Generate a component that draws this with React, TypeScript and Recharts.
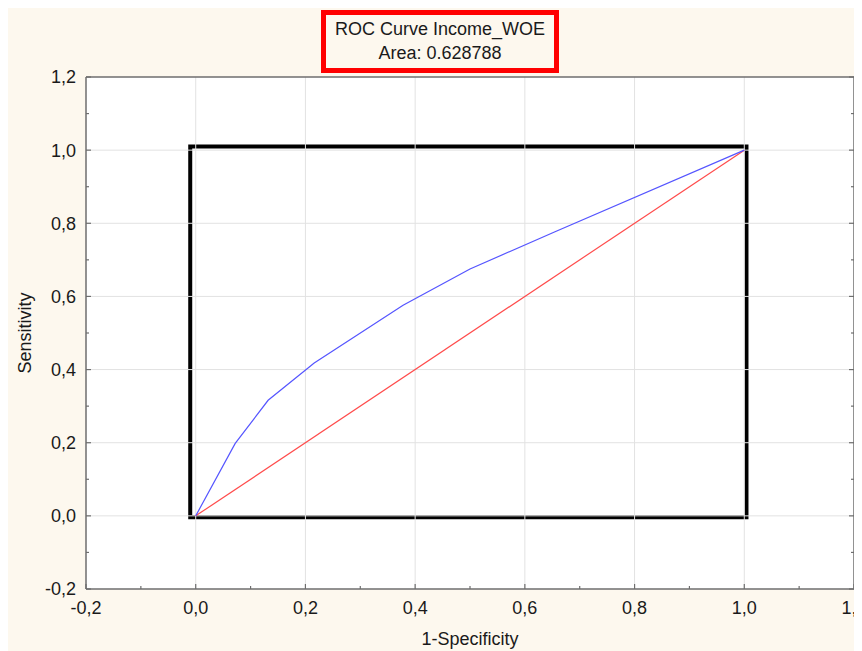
import React from "react";
import {
  CartesianGrid,
  Label,
  Line,
  LineChart,
  ReferenceArea,
  ReferenceLine,
  XAxis,
  YAxis,
} from "recharts";

// ROC points
const fpr = [0, 0.072, 0.132, 0.216, 0.378, 0.5, 0.655, 1];
const tpr = [0, 0.198, 0.316, 0.418, 0.576, 0.675, 0.777, 1];
const diagX = [0, 1];
const diagY = [0, 1];

const axisTicks = [
  -0.2, -0.1, 0, 0.1, 0.2, 0.3, 0.4, 0.5, 0.6, 0.7, 0.8, 0.9, 1, 1.1, 1.2,
];
const gridValues = [0, 0.2, 0.4, 0.6, 0.8, 1];

const rocData = fpr.map((x, i) => ({ fpr: x, tpr: tpr[i] }));
const diagData = diagX.map((x, i) => ({ fpr: x, tpr: diagY[i] }));

const FONT = "'Liberation Sans', Arial, sans-serif";
const TEXT = "#1a1a1a";
const AXIS = "#6e6e6e";
const GAP_X = 12;
const GAP_Y = 10;

const isMajor = (v: number) => Math.abs(Math.round(v * 10)) % 2 === 0;
const fmt = (v: number) => v.toFixed(1).replace(".", ",");

function Tick(props: any) {
  const { x, y, payload, side } = props;
  const v = payload.value as number;
  const major = isMajor(v);
  const len = major ? 5 : 3;
  if (side === "bottom") {
    const ay = y - GAP_X;
    return (
      <g>
        <line x1={x} y1={ay} x2={x} y2={ay - len} stroke={AXIS} strokeWidth={1.2} />
        {major && (
          <text x={x} y={y} dy="0.71em" textAnchor="middle" fill={TEXT} fontSize={18} fontFamily={FONT}>
            {fmt(v)}
          </text>
        )}
      </g>
    );
  }
  if (side === "top") {
    return <line x1={x} y1={y} x2={x} y2={y + len} stroke={AXIS} strokeWidth={1.2} />;
  }
  if (side === "left") {
    const ax = x + GAP_Y;
    return (
      <g>
        <line x1={ax} y1={y} x2={ax + len} y2={y} stroke={AXIS} strokeWidth={1.2} />
        {major && (
          <text x={x} y={y} dy="0.355em" textAnchor="end" fill={TEXT} fontSize={18} fontFamily={FONT}>
            {fmt(v)}
          </text>
        )}
      </g>
    );
  }
  return <line x1={x} y1={y} x2={x - len} y2={y} stroke={AXIS} strokeWidth={1.2} />;
}

export default function App() {
  return (
    <div
      style={{
        position: "relative",
        width: 854,
        height: 643,
        background: "#fdf8ee",
        overflow: "hidden",
        fontFamily: FONT,
      }}
    >
      <LineChart
        width={854}
        height={643}
        margin={{ top: 68, right: 0, bottom: 0, left: 0 }}
      >
        <CartesianGrid fill="#ffffff" stroke="none" />
        {gridValues.map((g) => (
          <ReferenceLine key={"vx" + g} x={g} stroke="#e2e2e2" strokeWidth={1} />
        ))}
        {gridValues.map((g) => (
          <ReferenceLine key={"hy" + g} y={g} stroke="#e2e2e2" strokeWidth={1} />
        ))}
        <XAxis
          dataKey="fpr"
          type="number"
          domain={[-0.2, 1.2]}
          ticks={axisTicks}
          interval={0}
          allowDataOverflow
          height={62}
          tickSize={0}
          tickMargin={GAP_X}
          tickLine={false}
          axisLine={{ stroke: AXIS, strokeWidth: 1.5 }}
          tick={<Tick side="bottom" />}
        >
          <Label
            value="1-Specificity"
            position="insideBottom"
            offset={6}
            fill={TEXT}
            fontSize={18}
            fontFamily={FONT}
          />
        </XAxis>
        <XAxis
          xAxisId="top"
          orientation="top"
          type="number"
          domain={[-0.2, 1.2]}
          ticks={axisTicks}
          interval={0}
          allowDataOverflow
          height={1}
          tickSize={0}
          tickMargin={0}
          tickLine={false}
          axisLine={{ stroke: AXIS, strokeWidth: 1.5 }}
          tick={<Tick side="top" />}
        />
        <YAxis
          type="number"
          domain={[-0.2, 1.2]}
          ticks={axisTicks}
          interval={0}
          allowDataOverflow
          width={78}
          tickSize={0}
          tickMargin={GAP_Y}
          tickLine={false}
          axisLine={{ stroke: AXIS, strokeWidth: 1.5 }}
          tick={<Tick side="left" />}
          label={{
            content: ({ viewBox }: any) => {
              const cx = viewBox.x + 17;
              const cy = viewBox.y + viewBox.height / 2;
              return (
                <text
                  x={cx}
                  y={cy}
                  transform={`rotate(-90 ${cx} ${cy})`}
                  textAnchor="middle"
                  dominantBaseline="central"
                  fill={TEXT}
                  fontSize={18}
                  fontFamily={FONT}
                >
                  Sensitivity
                </text>
              );
            },
          }}
        />
        <YAxis
          yAxisId="right"
          orientation="right"
          type="number"
          domain={[-0.2, 1.2]}
          ticks={axisTicks}
          interval={0}
          allowDataOverflow
          width={8}
          tickSize={0}
          tickMargin={0}
          tickLine={false}
          axisLine={{ stroke: AXIS, strokeWidth: 1.5 }}
          tick={<Tick side="right" />}
        />
        <Line
          data={diagData}
          dataKey="tpr"
          stroke="#ff4b4b"
          strokeWidth={1.2}
          dot={false}
          isAnimationActive={false}
        />
        <Line
          data={rocData}
          dataKey="tpr"
          stroke="#5555ff"
          strokeWidth={1.2}
          dot={false}
          isAnimationActive={false}
        />
        <ReferenceArea
          x1={-0.01}
          x2={1.004}
          y1={-0.004}
          y2={1.01}
          fill="none"
          fillOpacity={0}
          stroke="#000000"
          strokeWidth={4}
        />
      </LineChart>
      <div
        style={{
          position: "absolute",
          left: 313,
          top: 2,
          width: 238,
          height: 63,
          boxSizing: "border-box",
          border: "5px solid #ff0000",
          textAlign: "center",
          color: TEXT,
          fontSize: 18,
          lineHeight: "24px",
          paddingTop: 2,
        }}
      >
        <div>ROC Curve Income_WOE</div>
        <div>Area: 0.628788</div>
      </div>
    </div>
  );
}
